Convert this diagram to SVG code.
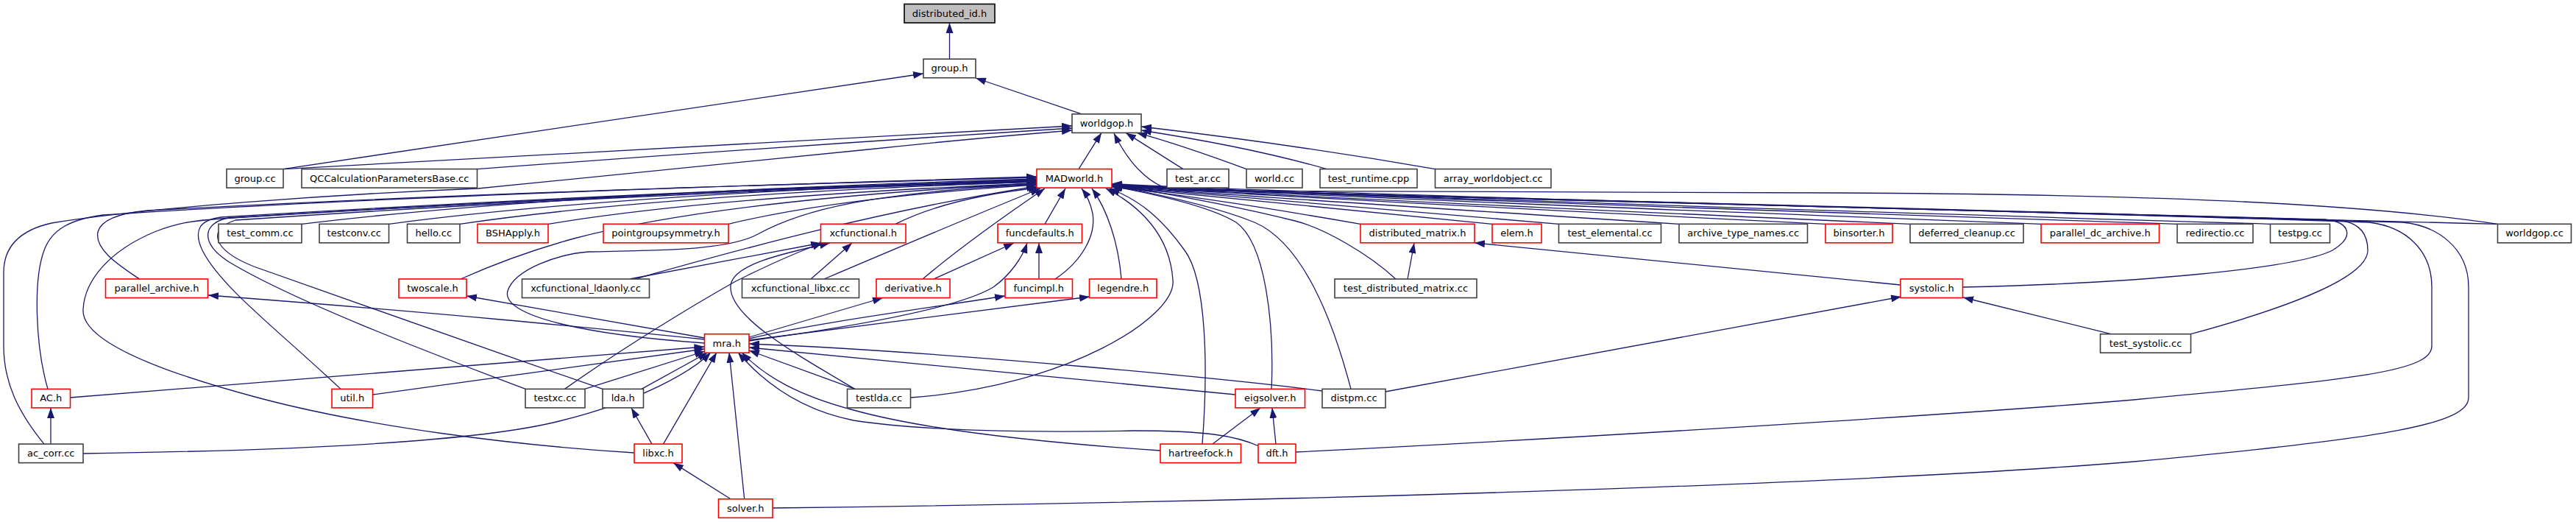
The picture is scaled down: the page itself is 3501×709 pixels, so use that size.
<svg xmlns="http://www.w3.org/2000/svg" width="3501" height="709" viewBox="0 0 3501 709">
<defs>
<marker id="a" markerUnits="userSpaceOnUse" markerWidth="14" markerHeight="10" refX="14" refY="5" orient="auto"><path d="M0,0 L14,5 L0,10 z" fill="#191970"/></marker>
<style>
.n rect{fill:#fff;stroke:#404040;stroke-width:1.6}
.r rect{fill:#fff;stroke:#ff0000;stroke-width:1.6}
.root rect{fill:#bfbfbf;stroke:#000;stroke-width:1.6}
text{font-family:"DejaVu Sans","Liberation Sans",sans-serif;font-size:13px;text-anchor:middle;fill:#000}
.e path{fill:none;stroke:#191970;stroke-width:1.3;marker-end:url(#a)}
</style>
</defs>
<rect width="3501" height="709" fill="#fff"/>
<g id="edges" class="e">
<path d="M1290.5,80.2 L1290.5,31"/>
<path d="M385,229.6 L1255,100"/>
<path d="M1470,154.9 L1326,106"/>
<path d="M386,229.6 Q900,200 1457,171"/>
<path d="M648.5,229.6 Q1050,200 1457,174"/>
<path d="M60,603.1 C25,560 5,520 5,470 L5,370 C5,332 30,312 70,303 C200,282 450,264 650,256 L1180,203 Q1320,188 1457,177"/>
<path d="M1466,229.6 L1497,180.4"/>
<path d="M1608,229.6 L1530,180.4"/>
<path d="M1694,229.6 Q1600,195 1545,180.4"/>
<path d="M1803,229.6 Q1700,200 1551,177"/>
<path d="M1950.5,229.6 Q1750,195 1551,172"/>
<path d="M3394.5,304.3 C3200,275 2900,264 2500,262 L1600,259 C1570,256 1538,230 1514,181"/>
<path d="M410,304.3 Q760,262 1409,243"/>
<path d="M528.5,304.3 Q840,263 1409,245"/>
<path d="M625,304.3 Q900,264 1409,247"/>
<path d="M745,304.3 Q980,266 1409,249"/>
<path d="M990,304.3 Q1140,268 1409,251"/>
<path d="M1217,304.3 Q1290,268 1412,255"/>
<path d="M1420,304.3 L1448,256"/>
<path d="M1849,304.3 Q1640,268 1511,254"/>
<path d="M2028,304.3 Q1660,267 1511,253.5"/>
<path d="M2118.5,304.3 Q1670,266 1511,253"/>
<path d="M2282,304.3 Q1680,266 1511,252.5"/>
<path d="M2481,304.3 Q1690,265 1511,252"/>
<path d="M2596,304.3 Q1700,265 1511,251.5"/>
<path d="M2774,304.3 Q1710,264 1511,251"/>
<path d="M2959,304.3 Q1720,264 1511,250.5"/>
<path d="M3085.5,304.3 Q1730,264 1511,250"/>
<path d="M3394.5,304.3 Q1740,263 1511,249.5"/>
<path d="M2667.5,390 C2900,385 3120,365 3170,340 C3200,322 3195,302 3160,298 C2400,278 1720,264 1511,251"/>
<path d="M2977.5,453.7 C3120,415 3218,375 3218,340 C3218,316 3205,304 3185,300 C2400,277 1720,264 1511,251.5"/>
<path d="M1761,614 C2200,592 2700,560 2900,543 C3200,515 3305,505 3305,470 L3305,390 C3305,340 3270,308 3220,302 C2400,276 1720,264 1511,252"/>
<path d="M1050,690 C1700,682 2500,660 2900,627 C3250,595 3355,575 3355,540 L3355,390 C3355,335 3310,306 3265,302 C2400,275 1720,264 1511,252.5"/>
<path d="M1434,379 C1470,355 1490,320 1485,290 C1482,275 1477,265 1470,256"/>
<path d="M1524,379 C1520,330 1505,285 1484,256"/>
<path d="M1237.5,540 C1450,525 1600,430 1594,380 C1590,320 1550,280 1503,256"/>
<path d="M1634,603.1 C1642,500 1640,380 1610,340 C1580,298 1550,272 1508,256"/>
<path d="M1728,528.4 C1732,440 1720,330 1680,302 C1640,278 1560,262 1511,253"/>
<path d="M1836,528.4 C1810,430 1770,330 1705,302 C1650,280 1565,262 1511,252"/>
<path d="M1897,379 C1860,345 1800,310 1760,300 C1680,280 1580,262 1511,251"/>
<path d="M1254,379 C1300,340 1370,290 1420,256"/>
<path d="M1120,379 C1200,345 1330,290 1414,256"/>
<path d="M863,379 C1000,340 1200,285 1409,253"/>
<path d="M957.5,466 C800,455 680,430 690,395 C700,365 760,345 800,342 C900,340 990,340 1030,318 C1090,285 1180,262 1409,250"/>
<path d="M626,379 C680,355 740,335 780,324 C900,292 1100,265 1409,249"/>
<path d="M65,528.4 C48,470 45,380 60,340 C70,312 95,298 140,292 C500,268 1000,252 1409,240"/>
<path d="M189.4,379 C165,362 128,340 133,315 C138,297 168,289 200,286 C600,264 1000,252 1409,241"/>
<path d="M862,615 C700,605 500,580 350,540 C200,500 110,460 113,420 C115,380 150,340 210,315 C240,303 260,300 300,297 C700,272 1100,254 1409,244"/>
<path d="M463,528.4 C380,450 300,390 275,340 C262,312 272,299 300,295 C700,271 1100,253 1409,245"/>
<path d="M714,528.4 C600,485 400,410 310,355 C272,330 275,303 310,296 C700,272 1100,254 1409,246"/>
<path d="M819,528.4 C650,470 450,400 345,362 C290,340 280,312 320,299 C700,273 1100,255 1409,247"/>
<path d="M69,603.1 L69,554"/>
<path d="M113,616 C400,612 650,600 760,572 C870,545 940,505 966,478.7"/>
<path d="M95.5,540 L957.5,471"/>
<path d="M506.5,536 L957.5,474"/>
<path d="M794.7,528.4 L958,477"/>
<path d="M872,528.4 L962,478.7"/>
<path d="M886,603.1 L858,554"/>
<path d="M901.5,603.1 L974,478.7"/>
<path d="M993,677.8 L915,628.6"/>
<path d="M1011.7,677.8 L991,478.7"/>
<path d="M1648,603.1 L1713,554"/>
<path d="M1734,603.1 L1729,554"/>
<path d="M1577,612 C1400,600 1250,582 1160,557 C1085,537 1040,512 1008,478.7"/>
<path d="M1711,606 C1680,592 1640,585 1540,585 C1400,588 1250,585 1160,571 C1090,557 1040,522 1003,478.7"/>
<path d="M1679,536 L1018,472"/>
<path d="M1797,531 C1700,518 1300,478 1018,467"/>
<path d="M1162,528.4 L1018,476"/>
<path d="M1162,528.4 C1080,480 990,430 993,388 C995,360 1060,345 1128,330"/>
<path d="M767.5,528.4 C850,470 950,410 1000,382 C1050,357 1090,340 1118,330"/>
<path d="M855.5,379 L1116,330"/>
<path d="M1102,379 L1158,330"/>
<path d="M957.5,459 L634,402"/>
<path d="M957.5,461 C800,445 600,425 283,401"/>
<path d="M1018,458 L1200,404.5"/>
<path d="M1018,460 C1100,440 1250,420 1366,402"/>
<path d="M1018,462 C1150,445 1350,420 1481,403"/>
<path d="M1018,463 C1150,445 1300,420 1350,390 C1375,372 1390,348 1396,330"/>
<path d="M1269,379 L1378,330"/>
<path d="M1412,379 L1412,330"/>
<path d="M1913,379 L1922,330"/>
<path d="M2583,387 L2004,329.8"/>
<path d="M2869,453.7 L2668,404"/>
<path d="M1883,532 L2584,403"/>
</g>
<g id="node-distributed_id" class="root"><rect x="1229" y="5.5" width="123" height="25.5"/><text x="1290.5" y="22.5">distributed_id.h</text></g>
<g id="node-group_h" class="n"><rect x="1255" y="80.2" width="71" height="25.5"/><text x="1290.5" y="97.2">group.h</text></g>
<g id="node-worldgop_h" class="n"><rect x="1457" y="154.9" width="94" height="25.5"/><text x="1504" y="171.9">worldgop.h</text></g>
<g id="node-group_cc" class="n"><rect x="308" y="229.6" width="77" height="25.5"/><text x="346.5" y="246.6">group.cc</text></g>
<g id="node-qc" class="n"><rect x="410" y="229.6" width="238.5" height="25.5"/><text x="529.25" y="246.6">QCCalculationParametersBase.cc</text></g>
<g id="node-madworld" class="r"><rect x="1409" y="229.6" width="102" height="25.5"/><text x="1460" y="246.6">MADworld.h</text></g>
<g id="node-test_ar" class="n"><rect x="1586" y="229.6" width="84" height="25.5"/><text x="1628" y="246.6">test_ar.cc</text></g>
<g id="node-world_cc" class="n"><rect x="1694" y="229.6" width="76" height="25.5"/><text x="1732" y="246.6">world.cc</text></g>
<g id="node-test_runtime" class="n"><rect x="1794" y="229.6" width="132" height="25.5"/><text x="1860" y="246.6">test_runtime.cpp</text></g>
<g id="node-array_worldobject" class="n"><rect x="1950.5" y="229.6" width="157.5" height="25.5"/><text x="2029.25" y="246.6">array_worldobject.cc</text></g>
<g id="node-test_comm" class="n"><rect x="297" y="304.3" width="113" height="25.5"/><text x="353.5" y="321.3">test_comm.cc</text></g>
<g id="node-testconv" class="n"><rect x="434" y="304.3" width="94.5" height="25.5"/><text x="481.25" y="321.3">testconv.cc</text></g>
<g id="node-hello" class="n"><rect x="553.5" y="304.3" width="71.5" height="25.5"/><text x="589.25" y="321.3">hello.cc</text></g>
<g id="node-bshapply" class="r"><rect x="649" y="304.3" width="96" height="25.5"/><text x="697" y="321.3">BSHApply.h</text></g>
<g id="node-pointgroupsymmetry" class="r"><rect x="820" y="304.3" width="170" height="25.5"/><text x="905" y="321.3">pointgroupsymmetry.h</text></g>
<g id="node-xcfunctional" class="r"><rect x="1115.5" y="304.3" width="115.5" height="25.5"/><text x="1173.25" y="321.3">xcfunctional.h</text></g>
<g id="node-funcdefaults" class="r"><rect x="1356" y="304.3" width="114.5" height="25.5"/><text x="1413.25" y="321.3">funcdefaults.h</text></g>
<g id="node-distributed_matrix" class="r"><rect x="1849" y="304.3" width="155" height="25.5"/><text x="1926.5" y="321.3">distributed_matrix.h</text></g>
<g id="node-elem" class="r"><rect x="2028" y="304.3" width="67" height="25.5"/><text x="2061.5" y="321.3">elem.h</text></g>
<g id="node-test_elemental" class="n"><rect x="2118.5" y="304.3" width="139" height="25.5"/><text x="2188" y="321.3">test_elemental.cc</text></g>
<g id="node-archive_type_names" class="n"><rect x="2282" y="304.3" width="174.5" height="25.5"/><text x="2369.25" y="321.3">archive_type_names.cc</text></g>
<g id="node-binsorter" class="r"><rect x="2481" y="304.3" width="91" height="25.5"/><text x="2526.5" y="321.3">binsorter.h</text></g>
<g id="node-deferred_cleanup" class="n"><rect x="2596" y="304.3" width="154" height="25.5"/><text x="2673" y="321.3">deferred_cleanup.cc</text></g>
<g id="node-parallel_dc_archive" class="r"><rect x="2774" y="304.3" width="160.5" height="25.5"/><text x="2854.25" y="321.3">parallel_dc_archive.h</text></g>
<g id="node-redirectio" class="n"><rect x="2959" y="304.3" width="103" height="25.5"/><text x="3010.5" y="321.3">redirectio.cc</text></g>
<g id="node-testpg" class="n"><rect x="3085.5" y="304.3" width="81" height="25.5"/><text x="3126" y="321.3">testpg.cc</text></g>
<g id="node-worldgop_cc" class="n"><rect x="3394.5" y="304.3" width="100" height="25.5"/><text x="3444.5" y="321.3">worldgop.cc</text></g>
<g id="node-parallel_archive" class="r"><rect x="143.5" y="379" width="139" height="25.5"/><text x="213" y="396">parallel_archive.h</text></g>
<g id="node-twoscale" class="r"><rect x="542" y="379" width="92" height="25.5"/><text x="588" y="396">twoscale.h</text></g>
<g id="node-xcf_ldaonly" class="n"><rect x="709.5" y="379" width="173" height="25.5"/><text x="796" y="396">xcfunctional_ldaonly.cc</text></g>
<g id="node-xcf_libxc" class="n"><rect x="1008.5" y="379" width="159" height="25.5"/><text x="1088" y="396">xcfunctional_libxc.cc</text></g>
<g id="node-derivative" class="r"><rect x="1191" y="379" width="100" height="25.5"/><text x="1241" y="396">derivative.h</text></g>
<g id="node-funcimpl" class="r"><rect x="1366" y="379" width="91.5" height="25.5"/><text x="1411.75" y="396">funcimpl.h</text></g>
<g id="node-legendre" class="r"><rect x="1480.5" y="379" width="91.5" height="25.5"/><text x="1526.25" y="396">legendre.h</text></g>
<g id="node-test_distributed_matrix" class="n"><rect x="1814" y="379" width="193" height="25.5"/><text x="1910.5" y="396">test_distributed_matrix.cc</text></g>
<g id="node-systolic" class="r"><rect x="2583" y="379" width="84.5" height="25.5"/><text x="2625.25" y="396">systolic.h</text></g>
<g id="node-mra" class="r"><rect x="957.5" y="453.7" width="60.5" height="25.5"/><text x="987.75" y="470.7">mra.h</text></g>
<g id="node-test_systolic" class="n"><rect x="2854.5" y="453.7" width="123" height="25.5"/><text x="2916" y="470.7">test_systolic.cc</text></g>
<g id="node-ac_h" class="r"><rect x="43" y="528.4" width="52.5" height="25.5"/><text x="69.25" y="545.4">AC.h</text></g>
<g id="node-util" class="r"><rect x="451" y="528.4" width="55.5" height="25.5"/><text x="478.75" y="545.4">util.h</text></g>
<g id="node-testxc" class="n"><rect x="714" y="528.4" width="81" height="25.5"/><text x="754.5" y="545.4">testxc.cc</text></g>
<g id="node-lda" class="n"><rect x="819" y="528.4" width="55.5" height="25.5"/><text x="846.75" y="545.4">lda.h</text></g>
<g id="node-testlda" class="n"><rect x="1151.5" y="528.4" width="86" height="25.5"/><text x="1194.5" y="545.4">testlda.cc</text></g>
<g id="node-eigsolver" class="r"><rect x="1679" y="528.4" width="94.5" height="25.5"/><text x="1726.25" y="545.4">eigsolver.h</text></g>
<g id="node-distpm" class="n"><rect x="1797" y="528.4" width="86" height="25.5"/><text x="1840" y="545.4">distpm.cc</text></g>
<g id="node-ac_corr" class="n"><rect x="25.5" y="603.1" width="87.5" height="25.5"/><text x="69.25" y="620.1">ac_corr.cc</text></g>
<g id="node-libxc" class="r"><rect x="862" y="603.1" width="65" height="25.5"/><text x="894.5" y="620.1">libxc.h</text></g>
<g id="node-hartreefock" class="r"><rect x="1577" y="603.1" width="109.5" height="25.5"/><text x="1631.75" y="620.1">hartreefock.h</text></g>
<g id="node-dft" class="r"><rect x="1710" y="603.1" width="51" height="25.5"/><text x="1735.5" y="620.1">dft.h</text></g>
<g id="node-solver" class="r"><rect x="976.5" y="677.8" width="73.5" height="25.5"/><text x="1013.25" y="694.8">solver.h</text></g>
</svg>
